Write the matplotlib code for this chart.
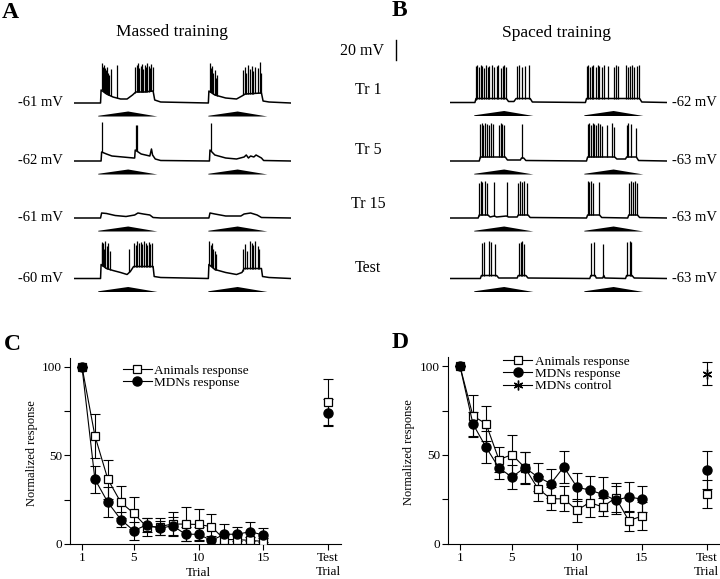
import numpy as np
import matplotlib
matplotlib.use("Agg")
import matplotlib.pyplot as plt
from matplotlib.lines import Line2D

plt.rcParams['font.family'] = ['Liberation Serif', 'DejaVu Serif']

# ============================================================
# DATA: RECORDINGS (time in s, depolarisation from rest in mV)
# ============================================================

stim_on = [2.24, 12.4]
stim_peak = [5.0, 15.1]
stim_off = [7.7, 17.85]

# --- Massed training ---
massed_rest = [-61, -62, -61, -60]

m1_env_t = [0, 2.45, 2.5, 3.0, 3.6, 4.3, 4.9, 5.4, 5.7, 6.5, 7.3, 7.45, 8.0, 12.4, 12.45, 13.0, 14.0, 15.0, 15.5, 15.8, 17.3, 17.45, 18.0, 20]
m1_env_v = [0, 0, 13, 9, 6, 4, 4, 8, 11, 11, 12, 3, 1, 0, 12, 8, 5, 4, 7, 9, 10, 2, 1, 0]
m1_spk_t = [2.55, 2.65, 2.74, 2.83, 2.92, 3.02, 3.11, 3.26, 3.42, 3.94, 5.63, 5.78, 5.91, 6.03, 6.15, 6.28, 6.40, 6.52, 6.65, 6.77, 6.89, 7.02, 7.14, 7.26,
            12.55, 12.65, 12.75, 12.86, 12.97, 13.1, 13.2, 15.6, 15.75, 15.9, 16.1, 16.25, 16.4, 16.55, 16.75, 16.95, 17.15, 17.3]
m1_spk_v = [40, 36, 38, 35, 33, 36, 30, 28, 34, 38, 36, 38, 40, 35, 37, 39, 34, 38, 36, 40, 37, 35, 39, 36,
            40, 35, 37, 30, 33, 25, 28, 33, 36, 30, 38, 34, 37, 32, 36, 35, 41, 30]

m2_env_t = [0, 2.5, 2.55, 3.0, 3.5, 4.5, 5.5, 5.6, 5.65, 6.2, 7.0, 7.15, 7.25, 7.5, 8.0, 12.5, 12.55, 13.0, 14.0, 15.0, 15.7, 15.9, 16.1, 16.3, 16.6, 16.8, 17.3, 17.5, 20]
m2_env_v = [0, 0, 9, 7, 5, 4, 3, 3, 11, 7, 5, 12, 6, 2, 0.5, 0, 11, 6, 3, 2, 4, 6, 3, 5, 4, 6, 3, 0.5, 0]
m2_spk_t = [2.6, 5.7, 5.85, 12.6]
m2_spk_v = [39, 36, 36, 38]

m3_env_t = [0, 2.45, 2.55, 3.0, 3.8, 4.8, 5.6, 5.9, 6.4, 7.0, 7.3, 8.0, 12.45, 12.55, 13.0, 14.0, 15.4, 15.7, 16.3, 16.9, 17.3, 20]
m3_env_v = [0, 0, 5, 4.5, 2.5, 1.5, 3, 5, 4, 3, 0.5, 0, 0, 5, 4, 2, 2, 4, 5, 3, 0.5, 0]
m3_spk_t = []
m3_spk_v = []

m4_env_t = [0, 2.45, 2.5, 3.0, 3.6, 4.3, 4.9, 5.2, 5.5, 6.5, 7.3, 7.4, 8.0, 12.4, 12.45, 13.0, 14.0, 15.0, 15.5, 15.7, 17.3, 17.4, 18.0, 20]
m4_env_v = [0, 0, 14, 10, 8, 6, 4, 7, 12, 12, 12, 2, 1, 0, 14, 9, 6, 4, 6, 10, 10, 2, 1, 0]
m4_spk_t = [2.55, 2.63, 2.72, 2.8, 2.9, 3.05, 3.15, 3.3, 5.12, 5.55, 5.7, 5.85, 6.0, 6.15, 6.3, 6.45, 6.6, 6.75, 6.9, 7.05, 7.2,
            12.5, 12.6, 12.72, 12.85, 13.0, 13.15, 15.6, 15.75, 15.95, 16.2, 16.4, 16.55, 16.75, 16.95, 17.1]
m4_spk_v = [37, 35, 36, 30, 38, 33, 36, 28, 30, 36, 34, 38, 36, 37, 35, 38, 36, 34, 37, 35, 36,
            38, 34, 36, 30, 28, 25, 30, 35, 28, 38, 36, 34, 38, 33, 30]

# --- Spaced training ---
spaced_rest = [-62, -63, -63, -63]

s1_env_t = [0, 2.3, 2.4, 5.2, 5.4, 5.9, 6.1, 7.4, 7.6, 12.5, 12.6, 17.5, 17.7, 20]
s1_env_v = [0, 0, 4, 4, 1, 1, 4, 4, 0.5, 0, 4, 4, 0.5, 0]
s1_spk_t = [2.37, 2.52, 2.68, 2.83, 2.98, 3.14, 3.29, 3.48, 3.63, 3.85, 4.09, 4.31, 4.46, 4.71, 4.86, 5.02, 5.17,
            6.15, 6.37, 6.62, 6.92, 7.32,
            12.62, 12.77, 12.92, 13.08, 13.23, 13.45, 13.63, 13.78, 14.0, 14.25, 14.62, 15.14, 15.29, 15.54,
            16.25, 16.46, 16.62, 16.83, 17.02, 17.23, 17.45]
s1_spk_v = [37, 38, 36, 38, 37, 35, 38, 36, 37, 38, 36, 37, 38, 35, 37, 38, 36,
            37, 38, 36, 37, 38,
            37, 38, 36, 37, 38, 36, 38, 37, 36, 38, 37, 36, 38, 37,
            38, 36, 37, 38, 36, 37, 38]

s2_env_t = [0, 2.7, 2.8, 5.1, 5.3, 6.5, 6.6, 6.8, 7.0, 12.6, 12.7, 15.2, 15.4, 16.2, 16.3, 17.2, 17.4, 20]
s2_env_v = [0, 0, 4, 4, 1, 1, 3, 3, 0.5, 0, 4, 4, 2, 2, 4, 4, 0.5, 0]
s2_spk_t = [2.77, 2.92, 3.08, 3.23, 3.42, 3.6, 3.78, 4.0, 4.52, 4.68, 4.83, 5.02, 6.68,
            12.71, 12.86, 13.02, 13.17, 13.32, 13.48, 13.63, 13.85, 14.0, 14.52, 14.98, 15.11, 16.31, 16.46, 16.68, 17.14]
s2_spk_v = [37, 38, 36, 38, 37, 36, 38, 37, 36, 38, 37, 36, 37,
            37, 38, 36, 38, 37, 36, 38, 37, 35, 36, 38, 34, 36, 38, 37, 33]

s3_env_t = [0, 2.6, 2.7, 3.5, 3.7, 4.1, 4.3, 5.2, 5.4, 6.2, 6.3, 7.2, 7.4, 12.6, 12.7, 13.8, 14.0, 16.4, 16.5, 17.3, 17.5, 20]
s3_env_v = [0, 0, 3, 3, 1, 2, 1, 2, 1, 1, 3, 3, 0.5, 0, 3, 3, 0.5, 0, 3, 3, 0.5, 0]
s3_spk_t = [2.68, 2.83, 2.98, 3.23, 3.38, 4.09, 5.23, 6.31, 6.46, 6.62, 6.8, 7.14,
            12.71, 12.86, 13.02, 13.17, 13.75, 16.52, 16.71, 16.86, 17.08, 17.29]
s3_spk_v = [35, 37, 36, 37, 35, 36, 36, 35, 37, 36, 37, 35,
            37, 36, 37, 35, 36, 35, 37, 36, 37, 35]

s4_env_t = [0, 2.8, 2.9, 4.3, 4.5, 6.2, 6.3, 7.0, 7.2, 12.9, 13.0, 13.4, 13.5, 14.1, 14.2, 14.3, 16.2, 16.3, 16.8, 17.0, 20]
s4_env_v = [0, 0, 3, 3, 0.5, 0.5, 3, 3, 0.5, 0, 3, 3, 0.5, 0.5, 3, 0.5, 0, 3, 3, 0.5, 0]
s4_spk_t = [2.92, 3.14, 3.6, 3.78, 4.15, 6.37, 6.52, 6.68, 6.86, 12.98, 13.29, 14.15, 16.31, 16.62, 16.71]
s4_spk_v = [36, 37, 38, 37, 35, 36, 37, 38, 35, 36, 37, 35, 37, 38, 37]

trial_names = ['Tr 1', 'Tr 5', 'Tr 15', 'Test']

# ============================================================
# DATA: NORMALIZED RESPONSES (mean, error)
# ============================================================

trials = list(range(1, 16))
test_x = 20

c_animals = [100, 61, 36.5, 23.5, 17.3, 9.6, 9.8, 11.3, 11.2, 11.0, 9.8, 2.5, 2.5, 2.0, 1.5]
c_animals_err = [0, 12.5, 11, 9, 9, 5, 5, 7, 9.5, 9, 7, 3, 3, 2, 2]
c_mdns = [100, 36.5, 23.5, 13.8, 7.5, 10.8, 8.8, 10.3, 5.5, 5.5, 2.0, 5.5, 5.5, 7.0, 5.0]
c_mdns_err = [0, 7.5, 8.5, 4, 5, 4, 4, 5, 4, 4, 2.5, 5.5, 4, 5.5, 4]
c_test_animals, c_test_animals_err = 80, 13
c_test_mdns, c_test_mdns_err = 74, 7.5

d_animals = [100, 71.9, 67.6, 47.3, 50.1, 42.8, 31.0, 25.2, 25.2, 18.8, 23.1, 20.6, 25.9, 12.9, 15.4]
d_animals_err = [0, 12, 10, 7, 11, 9, 7, 6.5, 7, 6.5, 8, 5, 8, 5.6, 8]
d_mdns = [100, 67.4, 54.4, 42.6, 37.5, 42.8, 37.5, 33.8, 43.2, 31.9, 30.0, 27.8, 24.4, 26.3, 25.0]
d_mdns_err = [0, 7, 9, 6, 6.5, 8.6, 8, 8, 9, 8, 8, 9.7, 8, 8.6, 7.5]
d_test_animals, d_test_animals_err = 27.8, 8
d_test_mdns, d_test_mdns_err = 41.3, 10.7
d_test_control, d_test_control_err = 95.7, 6.6

# ============================================================
# FIGURE
# ============================================================

W, H = 720, 579
fig = plt.figure(figsize=(W / 100, H / 100), dpi=100)


def rect(left, top, w, h):
    # pixel box (from top-left) -> figure fraction
    return [left / W, 1 - (top + h) / H, w / W, h / H]


def ftext(x, y, s, **kw):
    fig.text(x / W, 1 - y / H, s, **kw)


# ------------------------------------------------------------
# Top: traces
# ------------------------------------------------------------

massed = [(m1_env_t, m1_env_v, m1_spk_t, m1_spk_v), (m2_env_t, m2_env_v, m2_spk_t, m2_spk_v),
          (m3_env_t, m3_env_v, m3_spk_t, m3_spk_v), (m4_env_t, m4_env_v, m4_spk_t, m4_spk_v)]
spaced = [(s1_env_t, s1_env_v, s1_spk_t, s1_spk_v), (s2_env_t, s2_env_v, s2_spk_t, s2_spk_v),
          (s3_env_t, s3_env_v, s3_spk_t, s3_spk_v), (s4_env_t, s4_env_v, s4_spk_t, s4_spk_v)]

rows_a = [103, 161, 218, 278.5]
rows_b = [102.5, 161, 218, 278.5]
rows_names = [90, 150, 204, 268]


def draw_trace(left, row, rec):
    env_t, env_v, spk_t, spk_v = rec
    ax = fig.add_axes(rect(left, row - 50, 216.7, 66))
    ax.set_xlim(0, 20)
    ax.set_ylim(-16, 50)
    ax.axis('off')
    ax.plot(env_t, env_v, color='k', lw=1.1)
    if spk_t:
        base = np.interp(spk_t, env_t, env_v)
        ax.vlines(spk_t, base, spk_v, color='k', lw=0.9)
    for on, pk, off in zip(stim_on, stim_peak, stim_off):
        ax.fill([on, on, pk, off], [-13.5, -12.8, -8.5, -13.5], color='k', lw=0)


for row, rec, rest in zip(rows_a, massed, massed_rest):
    draw_trace(74, row, rec)
    ftext(40, row, f'{rest} mV', ha='center', va='center', fontsize=10.5)

for row, rec, rest in zip(rows_b, spaced, spaced_rest):
    draw_trace(450, row, rec)
    ftext(694, row, f'{rest} mV', ha='center', va='center', fontsize=10.5)

for y, name in zip(rows_names, trial_names):
    ftext(368, y, name, ha='center', va='center', fontsize=11.5)

ftext(172, 32, 'Massed training', ha='center', va='center', fontsize=12.5)
ftext(557, 33, 'Spaced training', ha='center', va='center', fontsize=12.5)

# 20 mV scale bar (1 px = 1 mV in trace axes)
ftext(362, 51, '20 mV', ha='center', va='center', fontsize=11.5)
fig.add_artist(Line2D([396 / W, 396 / W], [1 - 40 / H, 1 - 60 / H], color='k', lw=1))

for x, y, s in [(2, 13, 'A'), (392, 11, 'B'), (4, 344, 'C'), (392, 343, 'D')]:
    ftext(x, y, s, ha='left', va='center', fontsize=17, fontweight='bold')

# ------------------------------------------------------------
# Bottom: normalized response plots
# ------------------------------------------------------------


def style_axes(ax):
    ax.set_xlim(0.1, 21)
    ax.set_ylim(0, 105)
    for side in ['top', 'right']:
        ax.spines[side].set_visible(False)
    for side in ['left', 'bottom']:
        ax.spines[side].set_linewidth(0.8)
    ax.set_xticks([1, 5, 10, 15, test_x])
    ax.set_xticklabels(['1', '5', '10', '15', 'Test\nTrial'])
    ax.set_yticks([0, 50, 100])
    ax.set_yticks([25, 75], minor=True)
    ax.tick_params(direction='out', length=4, width=0.8, labelsize=9.5, pad=2)
    ax.tick_params(which='minor', direction='out', length=4, width=0.8)
    ax.text(10, -0.155, 'Trial', transform=ax.get_xaxis_transform(),
            ha='center', va='center', fontsize=9.5)
    ax.set_ylabel('Normalized response', fontsize=9)


ebar = dict(fmt='none', ecolor='k', elinewidth=0.8, capsize=3.5, capthick=0.8, zorder=2)
sq = dict(marker='s', ms=5.5, mfc='white', mec='k', mew=0.9, color='k', lw=0.8, zorder=3)
dot = dict(marker='o', ms=6.5, mfc='k', mec='k', color='k', lw=0.8, zorder=4)
leg = dict(loc='upper left', frameon=False, fontsize=9.5, handlelength=2.2, handletextpad=0.2,
           labelspacing=0.0, borderpad=0, borderaxespad=0, numpoints=1)

# C
axc = fig.add_axes(rect(70.3, 357.8, 270.7, 186.2))
style_axes(axc)
axc.errorbar(trials, c_animals, yerr=c_animals_err, **ebar)
axc.errorbar(trials, c_mdns, yerr=c_mdns_err, **ebar)
axc.errorbar([test_x], [c_test_animals], yerr=[c_test_animals_err], **ebar)
axc.errorbar([test_x], [c_test_mdns], yerr=[c_test_mdns_err], **ebar)
ha, = axc.plot(trials, c_animals, label='Animals response', **sq)
hm, = axc.plot(trials, c_mdns, label='MDNs response', **dot)
axc.plot([test_x], [c_test_animals], **sq)
axc.plot([test_x], [c_test_mdns], **dot)
axc.legend(handles=[ha, hm], bbox_to_anchor=(0.194, 0.965), **leg)
axc.yaxis.set_label_coords(-0.12, 0.49)

# D
axd = fig.add_axes(rect(448.3, 357.3, 271.3, 186.2))
style_axes(axd)
axd.errorbar(trials, d_animals, yerr=d_animals_err, **ebar)
axd.errorbar(trials, d_mdns, yerr=d_mdns_err, **ebar)
axd.errorbar([test_x], [d_test_animals], yerr=[d_test_animals_err], **ebar)
axd.errorbar([test_x], [d_test_mdns], yerr=[d_test_mdns_err], **ebar)
axd.errorbar([test_x], [d_test_control], yerr=[d_test_control_err], **ebar)
ha, = axd.plot(trials, d_animals, label='Animals response', **sq)
hm, = axd.plot(trials, d_mdns, label='MDNs response', **dot)
axd.plot([test_x], [d_test_animals], **sq)
axd.plot([test_x], [d_test_mdns], **dot)
hc, = axd.plot([test_x], [d_test_control], marker=(6, 2, 0), ms=7, mec='k', mew=1.0,
               color='k', lw=0.8, label='MDNs control', zorder=4)
axd.legend(handles=[ha, hm, hc], bbox_to_anchor=(0.2016, 1.01), **leg)
axd.yaxis.set_label_coords(-0.123, 0.49)

fig.savefig('out.png', dpi=100)
